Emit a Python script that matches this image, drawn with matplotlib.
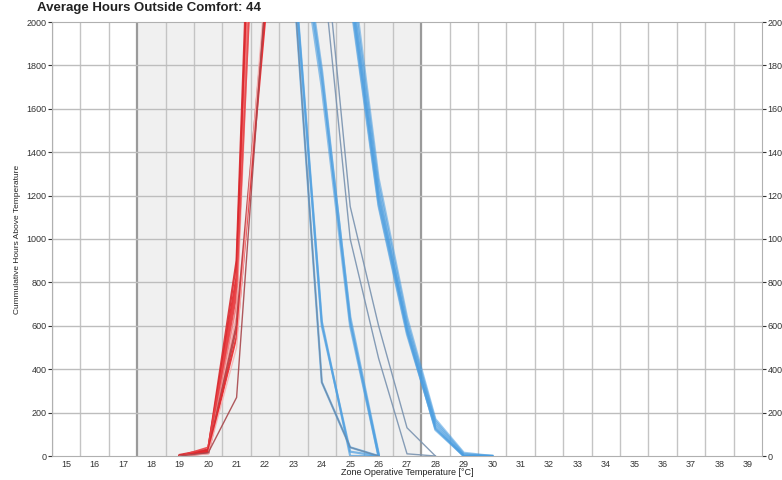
import matplotlib
matplotlib.use("Agg")
import matplotlib.pyplot as plt

plt.rcParams["font.family"] = ["Liberation Sans", "DejaVu Sans"]

# Cumulative hours above each zone operative temperature (one list per zone/run)
heat_temps = [19, 20, 21, 22]
heat_series = [
    [0, 25, 820, 4300],
    [0, 20, 750, 4000],
    [0, 15, 700, 4200],
    [5, 30, 900, 4600],
    [0, 10, 650, 3800],
    [0, 40, 780, 3600],
    [0, 15, 600, 2050],
    [0, 20, 550, 2000],
    [0, 10, 500, 2150],
    [0, 15, 270, 2100],
]
heat_colors = ["#e8262b", "#e8383c", "#f07a7c", "#d9282d", "#f4a3a3",
               "#e84448", "#b8383c", "#e8262b", "#f6b4b4", "#a8474c"]
heat_widths = [2.0, 1.6, 1.2, 1.6, 1.0, 1.2, 1.8, 1.4, 1.0, 1.0]

cool_temps_a = [23, 24, 25, 26]
cool_series_a = [
    [2200, 340, 40, 0],
    [2300, 620, 0, 0],
    [2280, 600, 20, 0],
]
cool_temps_b = [23, 24, 25, 26]
cool_series_b = [
    [2600, 1700, 600, 0],
    [2650, 1750, 640, 10],
    [2700, 1780, 620, 0],
]
cool_temps_d = [24, 25, 26, 27, 28]
cool_series_d = [
    [2300, 1000, 450, 10, 0],
    [2500, 1150, 600, 130, 0],
]
cool_temps_c = [25, 26, 27, 28, 29, 30]
cool_series_c = [
    [2100, 1150, 560, 130, 0, 0],
    [2150, 1200, 600, 150, 5, 0],
    [2200, 1220, 580, 120, 0, 0],
    [2250, 1250, 620, 160, 10, 0],
    [2180, 1180, 590, 140, 0, 0],
    [2300, 1280, 640, 170, 15, 0],
    [2120, 1160, 570, 125, 0, 0],
]

x_ticks = list(range(15, 40))
y_ticks = list(range(0, 2001, 200))
comfort_low, comfort_high = 17.5, 27.5
title_text = "Average Hours Outside Comfort: 44"

fig = plt.figure(figsize=(7.82, 4.80), dpi=100)
ax = fig.add_axes([52 / 782, 24 / 480, 710 / 782, 434 / 480])

ax.set_xlim(14.5, 39.5)
ax.set_ylim(0, 2000)

# comfort band shading
ax.axvspan(comfort_low, comfort_high, color="#f0f0f0", zorder=0)

# grid between temperature bins
for gx in [t + 0.5 for t in range(14, 39)]:
    if gx in (comfort_low, comfort_high):
        ax.axvline(gx, color="#9a9a9a", lw=1.6, zorder=1)
    else:
        ax.axvline(gx, color="#c4c4c4", lw=1.0, zorder=1)
for gy in y_ticks[1:-1]:
    ax.axhline(gy, color="#bdbdbd", lw=1.0, zorder=1)

for vals, col, lw in zip(heat_series, heat_colors, heat_widths):
    ax.plot(heat_temps, vals, color=col, lw=lw, alpha=0.9, zorder=3,
            solid_joinstyle="miter")

blue_main = "#4a9de0"
for vals in cool_series_a:
    ax.plot(cool_temps_a, vals, color=blue_main, lw=1.6, alpha=0.7, zorder=3)
ax.plot(cool_temps_a, cool_series_a[0], color="#6f8aa6", lw=0.9, alpha=0.9, zorder=4)
for vals in cool_series_b:
    ax.plot(cool_temps_b, vals, color=blue_main, lw=1.8, alpha=0.6, zorder=3)
for vals in cool_series_d:
    ax.plot(cool_temps_d, vals, color="#7a93b0", lw=1.0, alpha=0.9, zorder=3)
for vals in cool_series_c:
    ax.plot(cool_temps_c, vals, color=blue_main, lw=1.6, alpha=0.55, zorder=3)

ax.set_xticks(x_ticks)
ax.set_yticks(y_ticks)
ax.tick_params(axis="x", length=0, labelsize=6.5, colors="#333333", pad=3)
ax.tick_params(axis="y", length=3, labelsize=6.5, colors="#333333", pad=1,
               labelright=True, right=True)
for s in ax.spines.values():
    s.set_color("#b0b0b0")
    s.set_linewidth(0.8)

ax.set_xlabel("Zone Operative Temperature [°C]", fontsize=6.5, color="#222222",
              labelpad=-1)
ax.set_ylabel("Cummulative Hours Above Temperature", fontsize=6, color="#222222",
              labelpad=4)

fig.text(37 / 782, 1 - 8 / 480, title_text, fontsize=9.5, fontweight="bold",
         color="#222222", va="center", ha="left")

fig.savefig("out.png", dpi=100)
